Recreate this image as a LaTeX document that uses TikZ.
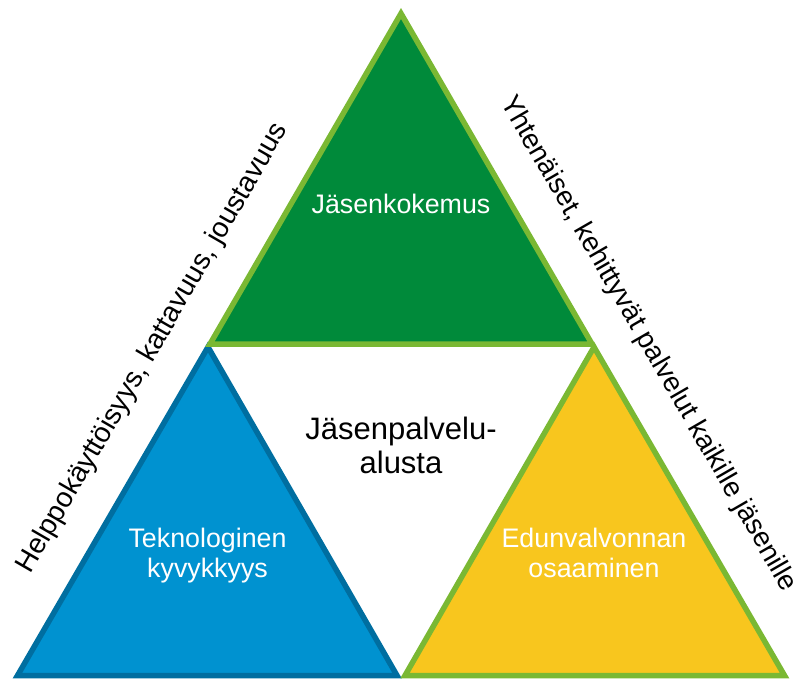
\documentclass[tikz,border=0pt]{standalone}
\usepackage{fontspec}
\setmainfont{Liberation Sans}
\definecolor{dgreen}{RGB}{0,138,58}
\definecolor{lgreen}{RGB}{122,184,51}
\definecolor{bluefill}{RGB}{0,146,208}
\definecolor{blueline}{RGB}{0,110,160}
\definecolor{yellowfill}{RGB}{248,198,30}
\begin{document}
\begin{tikzpicture}[x=1pt,y=-1pt,
  tri/.style={line width=5.5pt, line join=miter},
  lbl/.style={text=white, font=\fontsize{26.8}{30}\selectfont, align=center, inner sep=0pt},
  sidetext/.style={font=\fontsize{28.2}{32}\selectfont, inner sep=0pt}]
\useasboundingbox (0,0) rectangle (800,680);
% vertices
\coordinate (gA) at (401,13.5);
\coordinate (gL) at (210,344);
\coordinate (gR) at (592,344);
\coordinate (bA) at (208,347);
\coordinate (bL) at (17.5,675.5);
\coordinate (bR) at (397,675.5);
\coordinate (yA) at (594,347);
\coordinate (yL) at (405,675.5);
\coordinate (yR) at (784.5,675.5);
% triangles
\draw[tri, fill=bluefill, draw=blueline] (bA) -- (bL) -- (bR) -- cycle;
\draw[tri, fill=yellowfill, draw=lgreen] (yA) -- (yL) -- (yR) -- cycle;
\draw[tri, fill=dgreen, draw=lgreen] (gA) -- (gL) -- (gR) -- cycle;
% labels
\node[lbl, anchor=base] (jk) at (401,213) {Jäsenkokemus};
\node[font=\fontsize{31}{34}\selectfont, align=center, inner sep=0pt] (jp) at (401,445) {Jäsenpalvelu-\\alusta};
\node[lbl] (tk) at (207.5,555.5) {Teknologinen\\kyvykkyys};
\node[lbl] (eo) at (594,553) {Edunvalvonnan\\osaaminen};
\node[sidetext, rotate=60] (lt) at (153,348) {Helppokäyttöisyys, kattavuus, joustavuus};
\node[sidetext, rotate=-60, font=\fontsize{27.8}{32}\selectfont] (rt) at (648,344) {Yhtenäiset, kehittyvät palvelut kaikille jäsenille};
\end{tikzpicture}
\end{document}
